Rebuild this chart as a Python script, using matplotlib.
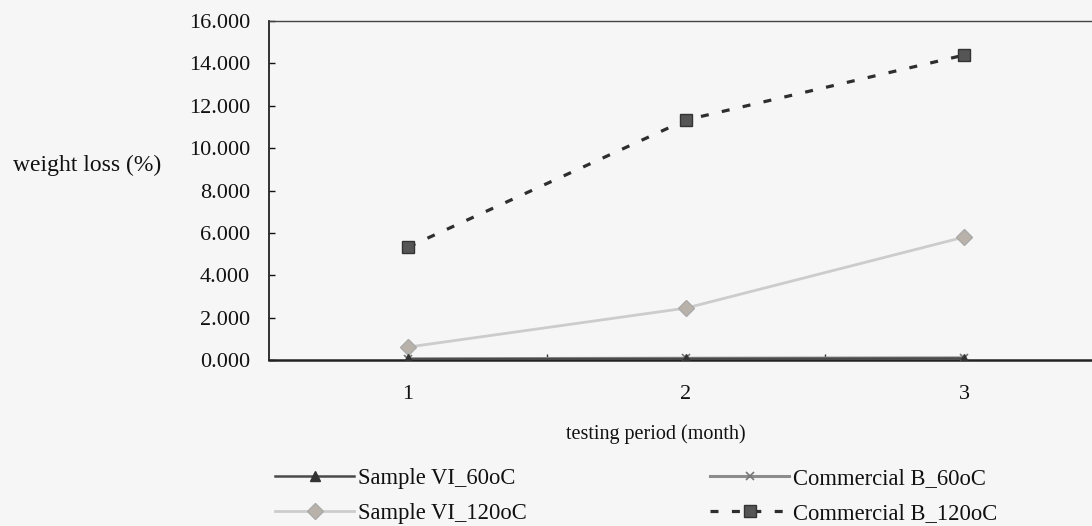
import matplotlib
matplotlib.use("Agg")
import matplotlib.pyplot as plt

# ---- data ----
months = [1, 2, 3]
month_labels = ["1", "2", "3"]
sample_vi_60 = [0.03, 0.05, 0.07]
commercial_b_60 = [0.06, 0.08, 0.10]
sample_vi_120 = [0.61, 2.45, 5.80]
commercial_b_120 = [5.33, 11.33, 14.39]
y_ticks = [0, 2, 4, 6, 8, 10, 12, 14, 16]
y_tick_labels = ["%.3f" % v for v in y_ticks]
series_names = ["Sample VI_60oC", "Commercial B_60oC", "Sample VI_120oC", "Commercial B_120oC"]

FONT = "Liberation Serif"
BG = "#f6f6f6"
W, H = 1092, 526

fig = plt.figure(figsize=(W / 100, H / 100), dpi=100, facecolor=BG)
left, right, top, bottom = 269, 1103, 21, 360
ax = fig.add_axes([left / W, 1 - bottom / H, (right - left) / W, (bottom - top) / H], facecolor=BG)

c_vi60 = "#4a4a4a"
c_b60 = "#8c8c8c"
c_vi120 = "#cccccc"
c_b120 = "#2e2e2e"

l_b60, = ax.plot(months, commercial_b_60, color=c_b60, lw=2.2, marker="x", ms=6, mew=1.2,
                 mec="#777777", label=series_names[1], zorder=3)
l_vi60, = ax.plot(months, sample_vi_60, color=c_vi60, lw=1.8, marker="^", ms=7, mfc="#333333",
                  mec="#333333", label=series_names[0], zorder=4)
l_vi120, = ax.plot(months, sample_vi_120, color=c_vi120, lw=2.0, marker="D", ms=8,
                   mfc="#b8b2aa", mec="#aaaaaa", label=series_names[2], zorder=3)
l_b120, = ax.plot(months, commercial_b_120, color=c_b120, lw=2.3, ls=(0, (2.5, 4.2)),
                  marker="s", ms=9, mfc="#555555", mec="#333333", label=series_names[3], zorder=3)

ax.set_xlim(0.5, 3.5)
ax.set_ylim(0, 16)
ax.set_yticks(y_ticks)
ax.set_yticklabels(y_tick_labels, fontfamily=FONT, fontsize=16)
ax.set_xticks(months)
ax.set_xticklabels(month_labels, fontfamily=FONT, fontsize=16)
ax.set_xticks([1.5, 2.5], minor=True)
ax.tick_params(axis="x", which="major", length=0, pad=18, colors="#111111")
ax.tick_params(axis="x", which="minor", direction="in", length=4, width=1, color="#333333")
ax.tick_params(axis="y", which="major", direction="in", length=4, width=1, pad=13.5, colors="#111111")

for s in ["left", "bottom"]:
    ax.spines[s].set_color("#222222")
ax.spines["left"].set_linewidth(1.3)
ax.spines["bottom"].set_linewidth(1.8)
ax.spines["top"].set_color("#444444")
ax.spines["top"].set_linewidth(1.0)
ax.spines["right"].set_visible(False)

fig.text(13 / W, 1 - 165 / H, "weight loss (%)", fontfamily=FONT, fontsize=17,
         ha="left", va="center", color="#111111")
fig.text(656 / W, 1 - 434 / H, "testing period (month)", fontfamily=FONT, fontsize=14.5,
         ha="center", va="center", color="#111111")

leg_kw = dict(frameon=False, prop={"family": FONT, "size": 16.3}, handlelength=3.5,
              handletextpad=0.15, labelspacing=0.6, borderaxespad=0, borderpad=0)
leg1 = fig.legend(handles=[l_vi60, l_vi120], loc="upper left",
                  bbox_to_anchor=(275 / W, 1 - 468 / H), **leg_kw)
leg2 = fig.legend(handles=[l_b60, l_b120], loc="upper left",
                  bbox_to_anchor=(710 / W, 1 - 468 / H), **leg_kw)
for leg in (leg1, leg2):
    for t in leg.get_texts():
        t.set_color("#111111")

fig.savefig("out.png", dpi=100, facecolor=BG)
